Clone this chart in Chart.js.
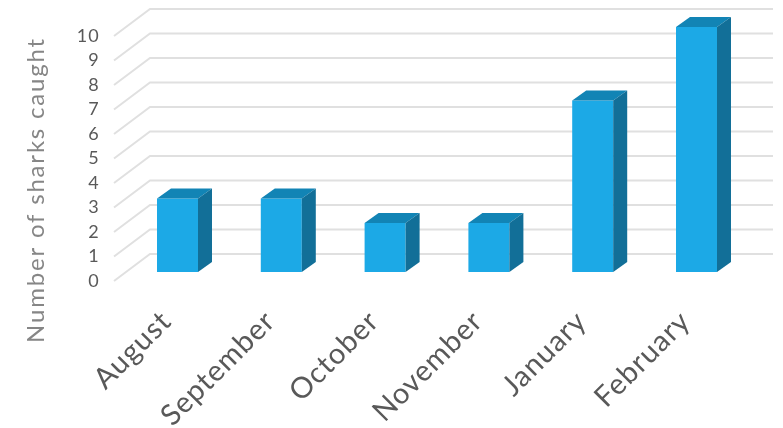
<!DOCTYPE html>
<html>
<head>
<meta charset="utf-8">
<script src="https://cdn.jsdelivr.net/npm/chart.js@4/dist/chart.umd.min.js"></script>
<style>
  html, body { margin: 0; padding: 0; background: #fff; overflow: hidden; }
  canvas { display: block; }
</style>
</head>
<body>
<canvas id="sharkChart" width="783" height="428"></canvas>
<script>
const months = ["August", "September", "October", "November", "January", "February"];
const sharksCaught = [3, 3, 2, 2, 7, 10];
const axisTitle = "Number of sharks caught";

const FONT = "Lato, 'Noto Sans', sans-serif";

// the picture is a fake 3D column chart, Chart.js has no such thing so the
// walls and bar sides are painted around the real scales
const fake3d = {
  id: "fake3d",
  beforeDraw(chart) {
    // reference font is wider than anything installed
    chart.ctx.letterSpacing = "1px";
  },
  beforeDatasetsDraw(chart) {
    const { ctx, chartArea: area, scales: { y } } = chart;
    ctx.save();
    ctx.strokeStyle = "#e0e0e0";
    ctx.lineWidth = 2;
    y.ticks.forEach(t => {
      const p = y.getPixelForValue(t.value);
      ctx.beginPath();
      ctx.moveTo(area.left - 11.6, p + 9);
      ctx.lineTo(area.left + 24.4, p - 18);
      ctx.lineTo(area.right + 24.6, p - 18);
      ctx.stroke();
    });
    ctx.restore();
  },
  afterDatasetsDraw(chart) {
    const { ctx } = chart;
    const dx = 14, dy = -10;
    ctx.save();
    chart.getDatasetMeta(0).data.forEach(bar => {
      const l = bar.x - bar.width / 2, r = bar.x + bar.width / 2;
      ctx.fillStyle = "#1284b5";
      ctx.beginPath();
      ctx.moveTo(l, bar.y);
      ctx.lineTo(l + dx, bar.y + dy);
      ctx.lineTo(r + dx, bar.y + dy);
      ctx.lineTo(r, bar.y);
      ctx.closePath();
      ctx.fill();
      ctx.fillStyle = "#126f98";
      ctx.beginPath();
      ctx.moveTo(r, bar.y);
      ctx.lineTo(r + dx, bar.y + dy);
      ctx.lineTo(r + dx, bar.base + dy);
      ctx.lineTo(r, bar.base);
      ctx.closePath();
      ctx.fill();
    });
    ctx.restore();
  },
  afterDraw(chart) {
    const { ctx } = chart;
    ctx.save();
    ctx.translate(36, 190);
    ctx.rotate(-Math.PI / 2);
    ctx.font = "24px " + FONT;
    ctx.letterSpacing = "1.8px";
    ctx.fillStyle = "#868686";
    ctx.textAlign = "center";
    ctx.textBaseline = "middle";
    ctx.fillText(axisTitle, 0, 0);
    ctx.restore();
  }
};

new Chart(document.getElementById("sharkChart"), {
  type: "bar",
  data: {
    labels: months,
    datasets: [{
      data: sharksCaught,
      backgroundColor: "#1ca9e6",
      categoryPercentage: 1,
      barPercentage: 0.395
    }]
  },
  options: {
    responsive: false,
    animation: false,
    layout: { padding: { top: 27, right: 34.6, left: 0, bottom: 0 } },
    plugins: { legend: { display: false }, tooltip: { enabled: false } },
    scales: {
      x: {
        border: { display: false },
        grid: { display: false, drawTicks: false },
        afterFit(scale) { scale.height = 156; },
        ticks: {
          color: "#595959",
          font: { family: FONT, size: 29 },
          minRotation: 45,
          maxRotation: 45,
          padding: 32,
          labelOffset: -11
        }
      },
      y: {
        min: 0,
        max: 10,
        border: { display: false },
        grid: { display: false, drawTicks: false },
        afterFit(scale) {
          scale.width = 125.6;
          scale.paddingTop = 0;
          scale.paddingBottom = 0;
        },
        ticks: {
          stepSize: 1,
          autoSkip: false,
          color: "#595959",
          font: { family: FONT, size: 18 },
          padding: 26,
          labelOffset: 9
        }
      }
    }
  },
  plugins: [fake3d]
});
</script>
</body>
</html>
